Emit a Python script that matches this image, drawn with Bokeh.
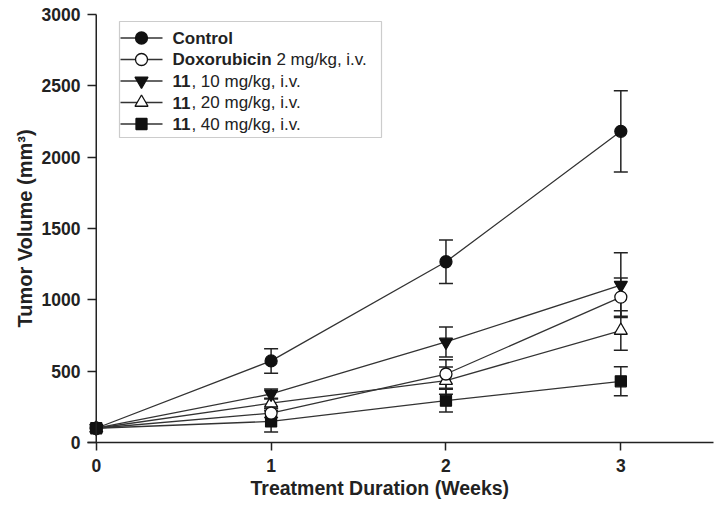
from bokeh.plotting import figure
from bokeh.models import (ColumnDataSource, Whisker, TeeHead, BoxAnnotation, Label, Range1d,
                          FixedTicker, Span, Title)
from bokeh.embed import file_html
from bokeh.resources import INLINE

# ---------------- data ----------------
weeks = [0, 1, 2, 3]
bold_parts = ["Control", "Doxorubicin", "11", "11", "11"]
normal_parts = ["", "2 mg/kg, i.v.", ", 10 mg/kg, i.v.", ", 20 mg/kg, i.v.", ", 40 mg/kg, i.v."]

control = [100, 572, 1267, 2181]
doxorubicin = [100, 206, 480, 1019]
c11_10 = [100, 340, 705, 1103]
c11_20 = [100, 276, 434, 785]
c11_40 = [100, 148, 293, 429]

err_weeks = [1, 2, 3]
control_err = [86, 152, 285]
doxorubicin_err = [30, 100, 134]
c11_10_err = [35, 105, 227]
c11_20_err = [35, 95, 138]
c11_40_err = [75, 80, 102]

x_ticks = [0, 1, 2, 3]
y_ticks = [0, 500, 1000, 1500, 2000, 2500, 3000]
x_title = "Treatment Duration (Weeks)"
y_title = "Tumor Volume (mm³)"

# ---------------- styles / geometry ----------------
FONT = "Liberation Sans"
AX_C = "#222222"
LINE_C = "#333333"
MARK_C = "#111111"
styles = [
    dict(marker="circle", size=12, fill=MARK_C),
    dict(marker="circle", size=12, fill="white"),
    dict(marker="inverted_triangle", size=13, fill=MARK_C),
    dict(marker="triangle", size=13, fill="white"),
    dict(marker="square", size=11, fill=MARK_C),
]
values = [control, doxorubicin, c11_10, c11_20, c11_40]
errors = [control_err, doxorubicin_err, c11_10_err, c11_20_err, c11_40_err]

W, H = 715, 506
X_START, X_END = -0.05, 3.53
Y_START, Y_END = 0, 3000
FRAME_LEFT, FRAME_RIGHT, FRAME_TOP, FRAME_BOTTOM = 87, 713, 14, 442
PX_PER_WEEK = (FRAME_RIGHT - FRAME_LEFT) / (X_END - X_START)
PX_PER_UNIT = (FRAME_BOTTOM - FRAME_TOP) / (Y_END - Y_START)

p = figure(width=W, height=H, output_backend="svg", toolbar_location=None,
           x_range=Range1d(X_START, X_END), y_range=Range1d(Y_START, Y_END),
           min_border_left=FRAME_LEFT, min_border_right=W - FRAME_RIGHT,
           min_border_top=FRAME_TOP, min_border_bottom=H - FRAME_BOTTOM)
p.outline_line_color = None
p.grid.grid_line_color = None
p.background_fill_color = "white"
p.border_fill_color = "white"

for ax in (p.xaxis[0], p.yaxis[0]):
    ax.axis_line_color = AX_C
    ax.axis_line_width = 1.5
    ax.major_tick_line_color = AX_C
    ax.major_tick_line_width = 1.5
    ax.minor_tick_line_color = None
    ax.major_label_text_font = FONT
    ax.major_label_text_font_style = "bold"
    ax.major_label_text_font_size = "17.5px"
    ax.major_label_text_color = AX_C
    ax.axis_label_text_font = FONT
    ax.axis_label_text_font_style = "bold"
    ax.axis_label_text_font_size = "20px"
    ax.axis_label_text_color = AX_C

p.xaxis.ticker = FixedTicker(ticks=x_ticks)
p.xaxis.major_tick_out = 8
p.xaxis.major_tick_in = 0
p.xaxis.major_label_standoff = 8

# y axis drawn at x = 0: ticks run from the frame edge to x = 0, line is a Span
p.yaxis.ticker = FixedTicker(ticks=y_ticks)
p.yaxis.axis_line_color = None
p.yaxis.major_tick_out = 0
p.yaxis.major_tick_in = round((0 - X_START) * PX_PER_WEEK)
p.yaxis.major_label_standoff = 7
p.yaxis.axis_label = y_title
p.yaxis.axis_label_standoff = 3
p.add_layout(Span(location=0, dimension="height", line_color=AX_C, line_width=1.5))

# x axis title, placed as in the reference (a little left of the frame centre)
X_TITLE_SIZE = 19.5
x_title_width = 13.335 * X_TITLE_SIZE
p.add_layout(Title(text=x_title, align="left", offset=380 - x_title_width / 2 - FRAME_LEFT,
                   text_font=FONT, text_font_style="bold",
                   text_font_size=f"{X_TITLE_SIZE}px", text_color=AX_C, standoff=0),
             "below")

# error bars
for vals, errs in zip(values, errors):
    mid = [vals[weeks.index(w)] for w in err_weeks]
    src = ColumnDataSource(dict(x=err_weeks,
                                upper=[m + e for m, e in zip(mid, errs)],
                                lower=[m - e for m, e in zip(mid, errs)]))
    p.add_layout(Whisker(source=src, base="x", upper="upper", lower="lower",
                         line_color=AX_C, line_width=1.5,
                         upper_head=TeeHead(size=14, line_color=AX_C, line_width=1.5),
                         lower_head=TeeHead(size=14, line_color=AX_C, line_width=1.5)))

# lines and markers (control last so it sits on top)
order = [4, 3, 2, 1, 0]
for i in order:
    src = ColumnDataSource(dict(x=weeks, y=values[i]))
    p.line("x", "y", source=src, line_color=LINE_C, line_width=1.3)
for i in order:
    st = styles[i]
    src = ColumnDataSource(dict(x=weeks, y=values[i]))
    p.scatter("x", "y", source=src, marker=st["marker"], size=st["size"],
              fill_color=st["fill"], line_color=MARK_C, line_width=1.3)

# ---------------- legend (hand-built for mixed bold text) ----------------
def dx(px):
    return X_START + (px - FRAME_LEFT) / PX_PER_WEEK

def dy(py):
    return Y_START + (FRAME_BOTTOM - py) / PX_PER_UNIT

LEG_LEFT, LEG_RIGHT, LEG_TOP, LEG_BOTTOM = 119, 381, 21, 137
ROW0, ROW_STEP = 37.5, 21.5
SAMPLE_X0, SAMPLE_X1, TEXT_X = 120, 162, 172
LEG_FONT = 17
bold_em = {"Control": 3.555, "Doxorubicin": 5.834 + 0.278, "11": 1.112}

p.add_layout(BoxAnnotation(left=dx(LEG_LEFT), right=dx(LEG_RIGHT), top=dy(LEG_TOP),
                           bottom=dy(LEG_BOTTOM), fill_alpha=0, line_color="#555555",
                           line_width=1.2))
for i in range(5):
    ry = dy(ROW0 + ROW_STEP * i)
    st = styles[i]
    p.line([dx(SAMPLE_X0), dx(SAMPLE_X1)], [ry, ry], line_color=LINE_C, line_width=1.3)
    p.scatter([dx((SAMPLE_X0 + SAMPLE_X1) / 2)], [ry], marker=st["marker"], size=st["size"],
              fill_color=st["fill"], line_color=MARK_C, line_width=1.3)
    p.add_layout(Label(x=dx(TEXT_X), y=ry, text=bold_parts[i], text_font=FONT,
                       text_font_style="bold", text_font_size=f"{LEG_FONT}px",
                       text_baseline="middle", text_color=AX_C))
    if normal_parts[i]:
        p.add_layout(Label(x=dx(TEXT_X), y=ry, x_offset=bold_em[bold_parts[i]] * LEG_FONT,
                           text=normal_parts[i], text_font=FONT, text_font_style="normal",
                           text_font_size=f"{LEG_FONT}px", text_baseline="middle",
                           text_color=AX_C))

open("out.html", "w").write(file_html(p, INLINE))
